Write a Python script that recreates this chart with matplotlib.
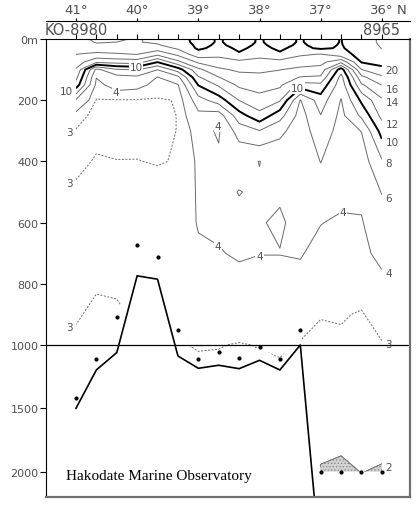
import numpy as np
import matplotlib
matplotlib.use("Agg")
import matplotlib.pyplot as plt
from matplotlib.patches import Polygon
from matplotlib.ticker import NullLocator
from matplotlib.transforms import blended_transform_factory

# stations KO-8980 (41N) ... 8965 (36N)
station_lat = [41.0, 40.667, 40.333, 40.0, 39.667, 39.333, 39.0, 38.667,
               38.333, 38.0, 37.667, 37.333, 37.0, 36.667, 36.333, 36.0]
first_station = "KO-8980"
last_station = "8965"

# deepest sample (dots) and sea floor, m
obs_bottom = [1415, 1108, 909, 674, 711, 952, 1108, 1053,
              1100, 1013, 1113, 951, 2000, 2000, 2000, 2000]
floor_depth = [1500, 1197, 1060, 774, 785, 1087, 1184, 1160,
               1187, 1121, 1197, 1000, 2750, 2900, 3000, 3100]

depth_m = [0, 10, 20, 30, 50, 75, 100, 125, 150, 200, 250, 300, 400,
           500, 600, 700, 800, 900, 1000, 1200, 1500, 2000, 2500]

# water temperature (deg C), one list per station, top to bottom
temp_by_station = [
    [17.5, 17.3, 17.0, 16.7, 16.0, 15.0, 13.8, 12.6, 11.2, 5.8, 3.4, 2.95, 2.7, 3.2, 3.4, 3.35, 3.2, 3.05, 2.9, 2.7, 2.5, 2.3, 2.2],
    [18.3, 18.1, 17.8, 17.2, 15.5, 12.5, 5.5, 4.05, 3.6, 2.95, 2.7, 2.7, 3.1, 3.3, 3.4, 3.3, 3.05, 2.9, 2.8, 2.6, 2.4, 2.3, 2.2],
    [18.3, 18.0, 17.6, 17.0, 15.8, 12.8, 7.8, 5.3, 4.6, 2.95, 2.7, 2.7, 3.02, 3.3, 3.4, 3.3, 3.1, 2.9, 2.8, 2.6, 2.4, 2.3, 2.2],
    [17.8, 17.9, 17.7, 17.3, 16.05, 13.0, 8.2, 5.6, 4.4, 2.95, 2.7, 2.75, 3.02, 3.3, 3.4, 3.3, 3.2, 3.1, 3.0, 2.8, 2.6, 2.4, 2.3],
    [18.5, 18.3, 17.8, 17.0, 14.5, 10.1, 6.05, 3.95, 3.6, 2.9, 2.7, 2.7, 2.95, 3.3, 3.5, 3.4, 3.3, 3.2, 3.05, 2.8, 2.6, 2.4, 2.3],
    [19.5, 19.4, 19.0, 18.3, 16.5, 13.5, 9.0, 5.5, 3.9, 3.05, 3.03, 3.03, 3.05, 3.4, 3.6, 3.6, 3.4, 3.15, 2.95, 2.8, 2.6, 2.4, 2.3],
    [20.4, 20.4, 20.35, 20.3, 19.2, 16.4, 13.5, 11.8, 10.1, 7.2, 5.5, 4.6, 4.2, 4.1, 4.05, 3.9, 3.6, 3.3, 3.05, 2.85, 2.6, 2.4, 2.3],
    [19.9, 19.9, 19.8, 19.5, 18.6, 17.0, 15.7, 13.95, 12.3, 9.0, 5.0, 3.8, 4.3, 4.25, 4.15, 3.95, 3.7, 3.3, 3.02, 2.9, 2.6, 2.4, 2.3],
    [20.4, 20.4, 20.35, 20.25, 19.85, 17.5, 16.3, 15.4, 14.4, 12.05, 9.2, 6.9, 4.4, 3.97, 4.2, 4.1, 3.75, 3.35, 2.97, 2.85, 2.6, 2.4, 2.3],
    [19.9, 19.9, 19.8, 19.6, 18.7, 17.3, 16.4, 15.5, 14.8, 13.3, 11.4, 7.95, 3.97, 4.15, 4.05, 4.02, 3.7, 3.35, 3.02, 2.9, 2.6, 2.4, 2.3],
    [20.4, 20.4, 20.35, 20.25, 19.8, 17.3, 16.05, 15.2, 14.4, 12.2, 8.8, 6.5, 4.6, 4.1, 3.9, 4.02, 3.7, 3.4, 3.1, 2.9, 2.6, 2.4, 2.3],
    [19.9, 19.9, 19.8, 19.5, 18.3, 16.8, 15.6, 13.9, 11.2, 5.9, 5.2, 4.9, 4.6, 4.4, 4.25, 4.05, 3.8, 3.3, 2.95, 2.8, 2.5, 2.3, 2.2],
    [20.5, 20.5, 20.4, 20.3, 17.9, 16.6, 15.3, 13.7, 11.5, 9.0, 7.95, 7.2, 6.05, 5.0, 4.02, 3.8, 3.5, 3.02, 2.9, 2.6, 2.3, 1.96, 1.8],
    [19.95, 19.95, 19.9, 19.8, 19.3, 14.5, 9.0, 7.3, 6.8, 5.9, 5.5, 5.2, 4.7, 4.2, 3.9, 3.7, 3.45, 3.05, 2.9, 2.65, 2.3, 1.9, 1.75],
    [21.2, 21.2, 21.1, 21.0, 20.6, 20.15, 17.95, 15.5, 13.7, 10.4, 8.4, 6.05, 5.0, 4.3, 3.9, 3.7, 3.3, 2.95, 2.85, 2.6, 2.3, 2.01, 1.9],
    [22.3, 22.3, 22.2, 22.05, 21.4, 20.6, 19.5, 17.6, 16.05, 13.7, 12.6, 10.8, 7.8, 6.1, 5.0, 4.35, 3.7, 3.3, 2.95, 2.7, 2.35, 1.95, 1.85],
]

thin_levels = [4, 6, 8, 12, 14, 16, 18, 22]
bold_levels = [10, 20]
dashed_levels = [3]
cold_level = 2
right_label_levels = [20, 16, 14, 12, 10, 8, 6, 4, 3, 2]
left_label_levels = [10, 3]
inline_labels = [("10", 40.02, 91), ("10", 37.38, 160), ("4", 40.35, 172),
                 ("4", 38.68, 285), ("4", 38.68, 675), ("4", 38.0, 708),
                 ("4", 36.64, 565)]

lat_ticks = [41, 40, 39, 38, 37, 36]
depth_ticks = [0, 200, 400, 600, 800, 1000, 1500, 2000]
depth_tick_labels = ["0m", "200", "400", "600", "800", "1000", "1500", "2000"]

GREY = "#6a6a6a"
TXT = "#505050"


def squeeze(d):
    # below 1000 m the depth axis is compressed
    d = np.asarray(d, dtype=float)
    return np.where(d <= 1000, d, 1000 + (d - 1000) * 0.414)


def unsqueeze(y):
    y = np.asarray(y, dtype=float)
    return np.where(y <= 1000, y, 1000 + (y - 1000) / 0.414)


def crossings(profile, level):
    """Depths where one station profile crosses a temperature level."""
    found = []
    for i in range(len(depth_m) - 1):
        t0, t1 = profile[i], profile[i + 1]
        if (t0 - level) * (t1 - level) < 0:
            found.append(depth_m[i] + (level - t0) / (t1 - t0) * (depth_m[i + 1] - depth_m[i]))
    return found


plt.rcParams['font.family'] = ['DejaVu Sans']
plt.rcParams['hatch.color'] = '#8c8c8c'
plt.rcParams['hatch.linewidth'] = 0.6

temp = np.array(temp_by_station).T

fig = plt.figure(figsize=(4.18, 5.06), dpi=100)
ax = fig.add_axes([46 / 418, 1 - 498 / 506, 364 / 418, 458 / 506])
ax.set_yscale('function', functions=(squeeze, unsqueeze))
ax.set_xlim(41.49, 35.54)
ax.set_ylim(2200, 0)

# section ends at the deepest sample of each station
outline = list(zip(station_lat, [0] * len(station_lat))) + \
    list(zip(station_lat[::-1], obs_bottom[::-1]))
clip = Polygon(outline, closed=True, transform=ax.transData)

cf = ax.contourf(station_lat, depth_m, temp, levels=[0, cold_level],
                 colors=['#d2d2d2'], hatches=['.....'])
cs_thin = ax.contour(station_lat, depth_m, temp, levels=thin_levels,
                     colors=GREY, linewidths=0.7)
cs_bold = ax.contour(station_lat, depth_m, temp, levels=bold_levels,
                     colors='k', linewidths=1.4)
cs_dash = ax.contour(station_lat, depth_m, temp, levels=dashed_levels,
                     colors=GREY, linewidths=0.7, linestyles=[(0, (2.0, 1.6))])
cs_cold = ax.contour(station_lat, depth_m, temp, levels=[cold_level],
                     colors=GREY, linewidths=0.7)
for cs in (cf, cs_thin, cs_bold, cs_dash, cs_cold):
    cs.set_clip_path(clip)

# sea floor and deepest samples
ax.plot(station_lat, floor_depth, color='k', lw=1.2)
ax.plot(station_lat, obs_bottom, 'o', color='k', ms=2.0)
ax.axhline(1000, color='k', lw=0.9)

# contour labels at the ends of the section
for lev in right_label_levels:
    d = crossings(temp[:, -1], lev)[0]
    ax.annotate(str(lev), (station_lat[-1], d), xytext=(2.5, -2.5),
                textcoords='offset points', ha='left', va='center',
                fontsize=7.5, color=TXT)
for lev in left_label_levels:
    for d in crossings(temp[:, 0], lev):
        ax.annotate(str(lev), (station_lat[0], d), xytext=(-2.5, -2),
                    textcoords='offset points', ha='right', va='center',
                    fontsize=7.5, color=TXT)
for txt, lat, d in inline_labels:
    ax.text(lat, d, txt, ha='center', va='center', fontsize=7.5, color=TXT,
            bbox=dict(fc='white', ec='none', pad=0.5), zorder=5)

# depth axis
ax.set_yticks(depth_ticks)
ax.set_yticklabels(depth_tick_labels)
ax.yaxis.set_minor_locator(NullLocator())
ax.tick_params(axis='y', direction='out', length=4.5, width=0.8,
               labelsize=8, labelcolor=TXT, pad=1)

# station ticks on the top frame
ax.set_xticks(station_lat)
ax.xaxis.set_minor_locator(NullLocator())
ax.tick_params(axis='x', top=True, bottom=False, labeltop=False,
               labelbottom=False, direction='out', length=3.6, width=0.8)
top_blend = blended_transform_factory(ax.transData, ax.transAxes)
ax.text(station_lat[0], 1.011, first_station, transform=top_blend,
        ha='center', va='baseline', fontsize=10.5, color=TXT)
ax.text(station_lat[-1], 1.011, last_station, transform=top_blend,
        ha='center', va='baseline', fontsize=10.5, color=TXT)

ax.spines['right'].set_color('#707070')
ax.spines['right'].set_linewidth(1.6)
ax.spines['bottom'].set_color('#707070')
ax.spines['bottom'].set_linewidth(1.6)

# latitude scale above the section
lat_ax = fig.add_axes([46 / 418, 1 - 22 / 506, 364 / 418, 0.0001])
lat_ax.set_xlim(ax.get_xlim())
lat_ax.set_yticks([])
lat_ax.patch.set_visible(False)
for side in ('left', 'right', 'bottom'):
    lat_ax.spines[side].set_visible(False)
lat_ax.spines['top'].set_linewidth(0.8)
lat_ax.xaxis.set_ticks_position('top')
lat_ax.set_xticks(lat_ticks)
lat_ax.set_xticklabels([f"{t}°" for t in lat_ticks])
lat_ax.tick_params(axis='x', direction='out', length=2.5, width=0.8,
                   labelsize=9.5, labelcolor=TXT, pad=1)
lat_ax.annotate("N", (lat_ticks[-1], 1), xycoords=('data', 'axes fraction'),
                xytext=(10.5, 3.5), textcoords='offset points', ha='left',
                va='bottom', fontsize=9.5, color=TXT)

ax.text(0.055, 0.046, "Hakodate Marine Observatory", transform=ax.transAxes,
        ha='left', va='center', fontsize=11, family='Liberation Serif',
        color='k')

fig.savefig("out.png", dpi=100)
